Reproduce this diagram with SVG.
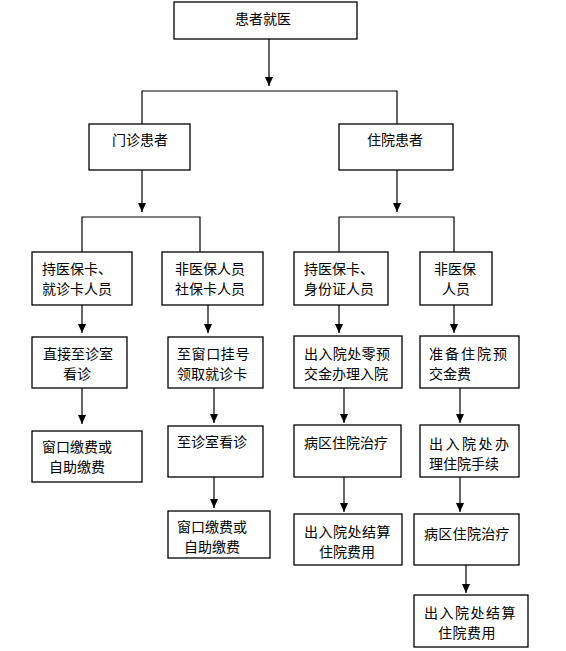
<svg xmlns="http://www.w3.org/2000/svg" width="566" height="651" viewBox="0 0 566 651">
<defs>
<marker id="ah" markerUnits="userSpaceOnUse" markerWidth="10" markerHeight="10" viewBox="0 0 10 10" refX="9" refY="5" orient="auto">
<path d="M0,1 L9,5 L0,9 Z" fill="#000"/>
</marker>
</defs>
<style>
rect{fill:#fff;stroke:#000;stroke-width:1.3}
text{font-family:"Noto Sans CJK SC","Noto Sans",sans-serif;font-size:14px;fill:#000}
.c line,.c polyline{stroke:#000;stroke-width:1.2;fill:none}
.a{marker-end:url(#ah)}
</style>
<rect x="0" y="0" width="566" height="651" style="fill:#fff;stroke:none"/>
<g class="c" id="connectors">
<line class="a" x1="269" y1="39" x2="269" y2="86"/>
<polyline points="142,124 142,91 397,91 397,124"/>
<line class="a" x1="142" y1="170" x2="142" y2="212"/>
<line class="a" x1="397" y1="170" x2="397" y2="212"/>
<polyline points="82,252 82,217 200,217 200,252"/>
<polyline points="339,252 339,217 454,217 454,252"/>
<line class="a" x1="82" y1="305" x2="82" y2="333"/>
<line class="a" x1="208" y1="305" x2="208" y2="333"/>
<line class="a" x1="82" y1="388" x2="82" y2="424"/>
<line class="a" x1="214" y1="388" x2="214" y2="423"/>
<line class="a" x1="214" y1="477" x2="214" y2="508"/>
<line class="a" x1="339" y1="305" x2="339" y2="333"/>
<line class="a" x1="454" y1="305" x2="454" y2="333"/>
<line class="a" x1="344" y1="388" x2="344" y2="423"/>
<line class="a" x1="460" y1="388" x2="460" y2="423"/>
<line class="a" x1="344" y1="477" x2="344" y2="512"/>
<line class="a" x1="460" y1="477" x2="460" y2="512"/>
<line class="a" x1="466" y1="565" x2="466" y2="593"/>
</g>
<g id="n-top"><rect x="174" y="2" width="183" height="37"/><text x="235" y="23.5">患者就医</text></g>
<g id="n-outpatient"><rect x="89" y="124" width="101" height="46"/><text x="112" y="145">门诊患者</text></g>
<g id="n-inpatient"><rect x="339" y="124" width="114" height="46"/><text x="367" y="145">住院患者</text></g>
<g id="n-a1"><rect x="32" y="252" width="100" height="53"/><text x="42" y="274">持医保卡、</text><text x="42" y="294">就诊卡人员</text></g>
<g id="n-a2"><rect x="162" y="252" width="101" height="53"/><text x="175" y="274">非医保人员</text><text x="175" y="294">社保卡人员</text></g>
<g id="n-b1"><rect x="32" y="337" width="95" height="51"/><text x="43" y="359">直接至诊室</text><text x="63" y="379">看诊</text></g>
<g id="n-b2"><rect x="168" y="337" width="95" height="51"/><text x="177" y="359" letter-spacing="0.6">至窗口挂号</text><text x="177" y="379">领取就诊卡</text></g>
<g id="n-c1"><rect x="32" y="431" width="110" height="51"/><text x="42" y="452">窗口缴费或</text><text x="49" y="472">自助缴费</text></g>
<g id="n-c2"><rect x="168" y="426" width="95" height="51"/><text x="177" y="447">至诊室看诊</text></g>
<g id="n-d2"><rect x="168" y="511" width="102" height="47"/><text x="177" y="532">窗口缴费或</text><text x="184" y="552">自助缴费</text></g>
<g id="n-e1"><rect x="294" y="252" width="94" height="53"/><text x="304" y="274">持医保卡、</text><text x="304" y="294">身份证人员</text></g>
<g id="n-e2"><rect x="420" y="252" width="72" height="53"/><text x="434" y="274">非医保</text><text x="442" y="294">人员</text></g>
<g id="n-f1"><rect x="294" y="336" width="108" height="52"/><text x="304" y="359" letter-spacing="0.4">出入院处零预</text><text x="304" y="379">交金办理入院</text></g>
<g id="n-f2"><rect x="420" y="336" width="99" height="52"/><text x="429" y="359" letter-spacing="2">准备住院预</text><text x="429" y="379">交金费</text></g>
<g id="n-g1"><rect x="294" y="425" width="107" height="52"/><text x="304" y="448">病区住院治疗</text></g>
<g id="n-g2"><rect x="420" y="425" width="99" height="52"/><text x="429" y="449" letter-spacing="2.5">出入院处办</text><text x="429" y="469">理住院手续</text></g>
<g id="n-h1"><rect x="294" y="514" width="108" height="51"/><text x="304" y="537" letter-spacing="0.5">出入院处结算</text><text x="319" y="557">住院费用</text></g>
<g id="n-g3"><rect x="414" y="514" width="105" height="51"/><text x="424" y="539" letter-spacing="0.3">病区住院治疗</text></g>
<g id="n-h3"><rect x="414" y="595" width="114" height="52"/><text x="424" y="618" letter-spacing="1.5">出入院处结算</text><text x="438" y="638" letter-spacing="0.5">住院费用</text></g>
</svg>
